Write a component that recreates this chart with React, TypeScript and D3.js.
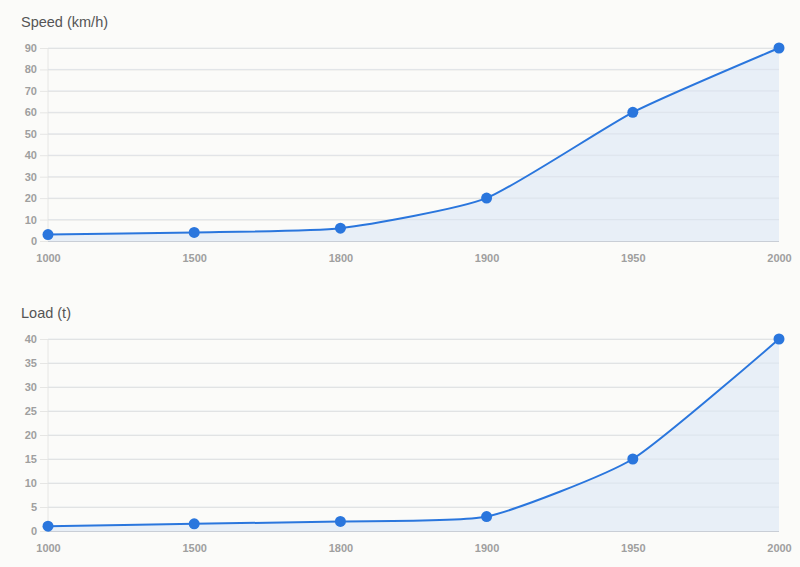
import React, { useEffect, useRef } from "react";
import * as d3 from "d3";

const years = ["1000", "1500", "1800", "1900", "1950", "2000"];
const speedValues = [3, 4, 6, 20, 60, 90];
const loadValues = [1, 1.5, 2, 3, 15, 40];
const speedTicks = [0, 10, 20, 30, 40, 50, 60, 70, 80, 90];
const loadTicks = [0, 5, 10, 15, 20, 25, 30, 35, 40];

const W = 800;
const H = 567;
const LINE = "#2a76dd";
const AREA = "#e4ecf7";
const FONT = "Liberation Sans, Arial, sans-serif";

function drawPanel(
  g: d3.Selection<SVGGElement, unknown, null, undefined>,
  title: string,
  values: number[],
  ticks: number[],
  top: number,
  bottom: number,
) {
  const x = d3.scalePoint<string>().domain(years).range([48, 779]);
  const y = d3
    .scaleLinear()
    .domain([0, d3.max(ticks) as number])
    .range([bottom, top]);
  const curve = d3.curveCardinal.tension(0.45);

  g.append("text")
    .attr("x", 21)
    .attr("y", top - 21)
    .attr("fill", "#555")
    .attr("font-size", 14.5)
    .text(title);

  // grid + y labels
  const yAxis = g
    .append("g")
    .attr("transform", "translate(48,0)")
    .call(
      d3
        .axisLeft(y)
        .tickValues(ticks)
        .tickSize(-(779 - 48))
        .tickPadding(11)
        .tickFormat(d3.format("d")),
    );
  yAxis.select(".domain").remove();
  yAxis
    .selectAll(".tick line")
    .attr("stroke", "#e6e6e4")
    .attr("x1", -8)
    .attr("x2", 779 - 48);
  yAxis
    .selectAll(".tick text")
    .attr("fill", "#9f9f9f")
    .attr("font-size", 11)
    .attr("font-weight", "bold")
    .attr("font-family", FONT);

  // left vertical line
  g.append("line")
    .attr("x1", 48)
    .attr("x2", 48)
    .attr("y1", top)
    .attr("y2", bottom)
    .attr("stroke", "#e6e6e4");

  const area = d3
    .area<number>()
    .x((_, i) => x(years[i]) as number)
    .y0(bottom)
    .y1((d) => y(d))
    .curve(curve);
  const line = d3
    .line<number>()
    .x((_, i) => x(years[i]) as number)
    .y((d) => y(d))
    .curve(curve);

  g.append("path").attr("d", area(values)).attr("fill", AREA).attr("opacity", 0.85);

  // faint grid over area
  g.append("g")
    .selectAll("line")
    .data(ticks.slice(1))
    .join("line")
    .attr("x1", 48)
    .attr("x2", 779)
    .attr("y1", (d) => y(d))
    .attr("y2", (d) => y(d))
    .attr("stroke", "#d5dbe3")
    .attr("stroke-opacity", 0.5);

  g.append("line")
    .attr("x1", 48)
    .attr("x2", 779)
    .attr("y1", bottom + 0.5)
    .attr("y2", bottom + 0.5)
    .attr("stroke", "#c9ced6");

  g.append("path")
    .attr("d", line(values))
    .attr("fill", "none")
    .attr("stroke", LINE)
    .attr("stroke-width", 2);

  g.append("g")
    .selectAll("circle")
    .data(values)
    .join("circle")
    .attr("cx", (_, i) => x(years[i]) as number)
    .attr("cy", (d) => y(d))
    .attr("r", 5.5)
    .attr("fill", LINE);

  const xAxis = g
    .append("g")
    .attr("transform", `translate(0,${bottom})`)
    .call(d3.axisBottom(x).tickSize(0).tickPadding(13));
  xAxis.select(".domain").remove();
  xAxis
    .selectAll(".tick text")
    .attr("fill", "#9f9f9f")
    .attr("font-size", 11)
    .attr("font-weight", "bold")
    .attr("font-family", FONT);
}

export default function App() {
  const ref = useRef<SVGSVGElement | null>(null);

  useEffect(() => {
    document.body.style.margin = "0";
    if (!ref.current) return;
    const svg = d3.select(ref.current);
    svg.selectAll("*").remove();
    svg.append("rect").attr("width", W).attr("height", H).attr("fill", "#fbfbf9");
    drawPanel(svg.append("g"), "Speed (km/h)", speedValues, speedTicks, 48, 241);
    drawPanel(svg.append("g"), "Load (t)", loadValues, loadTicks, 339, 531);
  }, []);

  return (
    <svg
      ref={ref}
      width={W}
      height={H}
      style={{ display: "block", fontFamily: FONT }}
    />
  );
}
